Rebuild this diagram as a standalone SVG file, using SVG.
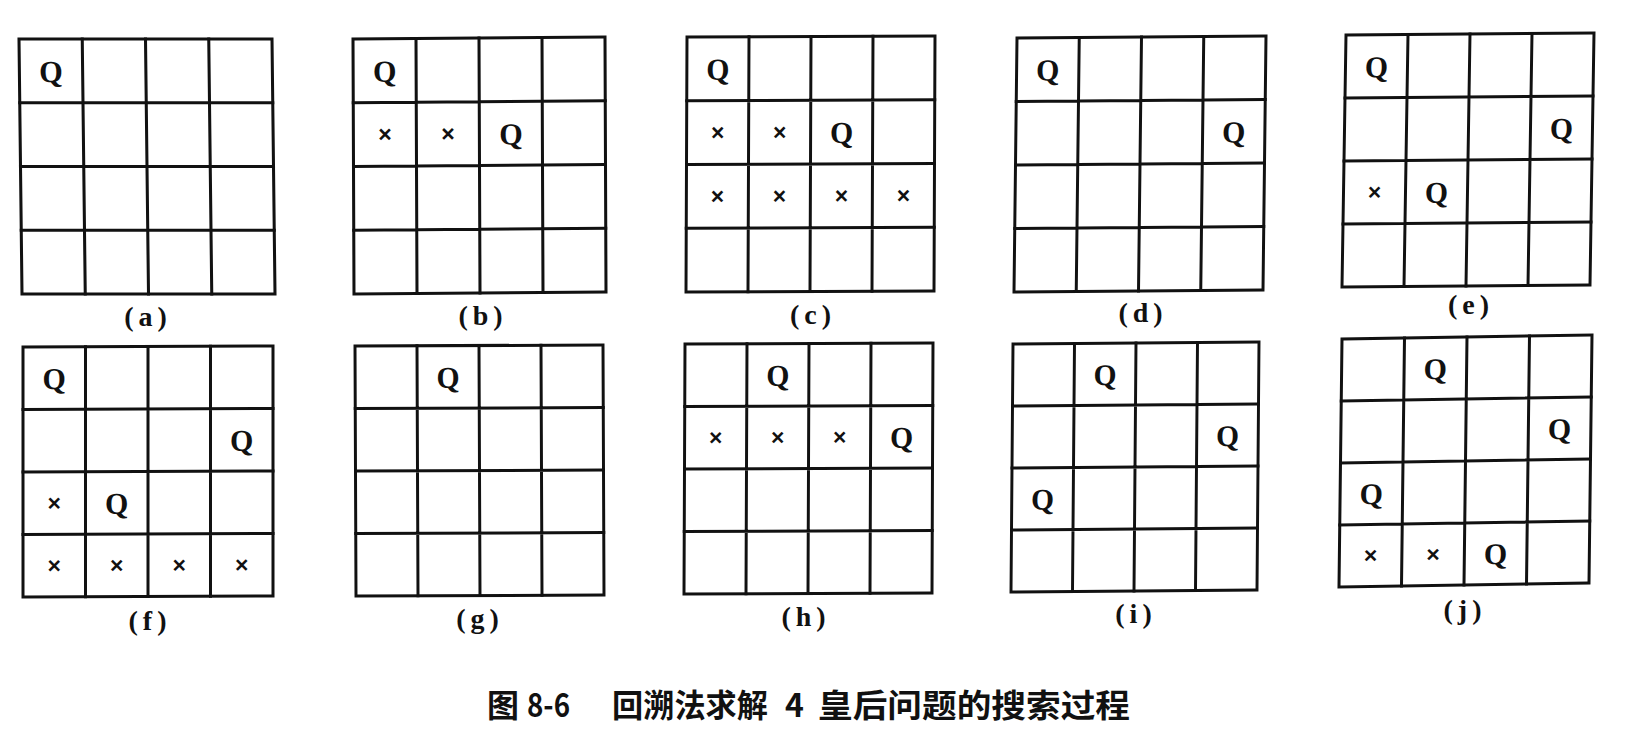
<svg xmlns="http://www.w3.org/2000/svg" xmlns:xlink="http://www.w3.org/1999/xlink" width="1630" height="748" viewBox="0 0 1630 748">
<style>
.ln{stroke:#111;stroke-width:3;fill:none;stroke-linecap:square}
.q{font-family:"Liberation Serif",serif;font-weight:bold;font-size:30px;text-anchor:middle;fill:#111}
.x{font-family:"Liberation Sans",sans-serif;font-weight:bold;font-size:23px;text-anchor:middle;fill:#111}
.lb{font-family:"Liberation Serif",serif;font-weight:bold;font-size:28px;text-anchor:middle;fill:#111;letter-spacing:5px}
.title{font-family:"Noto Sans CJK SC",sans-serif;font-weight:bold;font-size:32px;fill:#111}
</style>
<defs>
<g id="board">
<rect class="ln" x="0" y="0" width="250" height="250"/>
<path class="ln" d="M62.5 0V250M125 0V250M187.5 0V250M0 62.5H250M0 125H250M0 187.5H250"/>
</g>
</defs>
<rect width="1630" height="748" fill="#fff"/>

<g id="board-a">
<g transform="matrix(1.012 0 0.012 1.02 19 39)">
<use xlink:href="#board"/>
<text class="q" x="31.25" y="42">Q</text>
</g>
<text class="lb" x="148" y="326">(a)</text>
</g>

<g id="board-b">
<g transform="matrix(1.008 -0.008 0.004 1.02 353 39)">
<use xlink:href="#board"/>
<text class="q" x="31.25" y="42">Q</text>
<text class="x" x="31.25" y="101.5">×</text>
<text class="x" x="93.75" y="101.5">×</text>
<text class="q" x="156.25" y="104.5">Q</text>
</g>
<text class="lb" x="483" y="325">(b)</text>
</g>

<g id="board-c">
<g transform="matrix(0.992 -0.004 -0.004 1.02 687 37)">
<use xlink:href="#board"/>
<text class="q" x="31.25" y="42">Q</text>
<text class="x" x="31.25" y="101.5">×</text>
<text class="x" x="93.75" y="101.5">×</text>
<text class="q" x="156.25" y="104.5">Q</text>
<text class="x" x="31.25" y="164">×</text>
<text class="x" x="93.75" y="164">×</text>
<text class="x" x="156.25" y="164">×</text>
<text class="x" x="218.75" y="164">×</text>
</g>
<text class="lb" x="813" y="324">(c)</text>
</g>

<g id="board-d">
<g transform="matrix(0.996 -0.008 -0.012 1.016 1017 38)">
<use xlink:href="#board"/>
<text class="q" x="31.25" y="42">Q</text>
<text class="q" x="218.75" y="104.5">Q</text>
</g>
<text class="lb" x="1143" y="322">(d)</text>
</g>

<g id="board-e">
<g transform="matrix(0.992 -0.008 -0.016 1.008 1346 35)">
<use xlink:href="#board"/>
<text class="q" x="31.25" y="42">Q</text>
<text class="q" x="218.75" y="104.5">Q</text>
<text class="x" x="31.25" y="164">×</text>
<text class="q" x="93.75" y="167">Q</text>
</g>
<text class="lb" x="1471" y="314">(e)</text>
</g>

<g id="board-f">
<g transform="matrix(1 -0.004 0 1 23 347)">
<use xlink:href="#board"/>
<text class="q" x="31.25" y="42">Q</text>
<text class="q" x="218.75" y="104.5">Q</text>
<text class="x" x="31.25" y="164">×</text>
<text class="q" x="93.75" y="167">Q</text>
<text class="x" x="31.25" y="226.5">×</text>
<text class="x" x="93.75" y="226.5">×</text>
<text class="x" x="156.25" y="226.5">×</text>
<text class="x" x="218.75" y="226.5">×</text>
</g>
<text class="lb" x="150" y="630">(f)</text>
</g>

<g id="board-g">
<g transform="matrix(0.992 -0.004 0.004 1 355 346)">
<use xlink:href="#board"/>
<text class="q" x="93.75" y="42">Q</text>
</g>
<text class="lb" x="480" y="628">(g)</text>
</g>

<g id="board-h">
<g transform="matrix(0.992 -0.004 -0.004 1 685 344)">
<use xlink:href="#board"/>
<text class="q" x="93.75" y="42">Q</text>
<text class="x" x="31.25" y="101.5">×</text>
<text class="x" x="93.75" y="101.5">×</text>
<text class="x" x="156.25" y="101.5">×</text>
<text class="q" x="218.75" y="104.5">Q</text>
</g>
<text class="lb" x="806" y="626">(h)</text>
</g>

<g id="board-i">
<g transform="matrix(0.984 -0.008 -0.008 0.992 1013 344)">
<use xlink:href="#board"/>
<text class="q" x="93.75" y="42">Q</text>
<text class="q" x="218.75" y="104.5">Q</text>
<text class="q" x="31.25" y="167">Q</text>
</g>
<text class="lb" x="1136" y="623">(i)</text>
</g>

<g id="board-j">
<g transform="matrix(1 -0.016 -0.012 0.992 1342 339)">
<use xlink:href="#board"/>
<text class="q" x="93.75" y="42">Q</text>
<text class="q" x="218.75" y="104.5">Q</text>
<text class="q" x="31.25" y="167">Q</text>
<text class="x" x="31.25" y="226.5">×</text>
<text class="x" x="93.75" y="226.5">×</text>
<text class="q" x="156.25" y="229.5">Q</text>
</g>
<text class="lb" x="1465" y="619">(j)</text>
</g>

<g id="caption">
<text class="title" y="717"><tspan x="487">图</tspan> <tspan x="527" textLength="43" lengthAdjust="spacingAndGlyphs">8-6</tspan>　<tspan x="612" textLength="156" lengthAdjust="spacingAndGlyphs">回溯法求解</tspan> <tspan x="785">4</tspan> <tspan x="818" textLength="312" lengthAdjust="spacingAndGlyphs">皇后问题的搜索过程</tspan></text>
</g>
</svg>
